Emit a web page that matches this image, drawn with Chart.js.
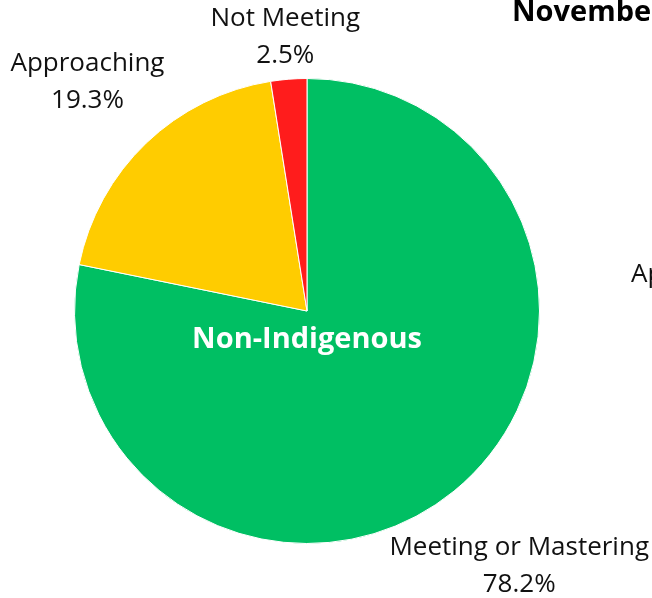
<!DOCTYPE html>
<html>
<head>
<meta charset="utf-8">
<script src="https://cdn.jsdelivr.net/npm/chart.js@4"></script>
<style>
html,body{margin:0;padding:0;background:#fff;}
#wrap{width:652px;height:598px;position:relative;}
</style>
</head>
<body>
<div id="wrap"><canvas id="c" width="652" height="598"></canvas></div>
<script>
const categories = ["Meeting or Mastering", "Approaching", "Not Meeting"];
const values = [78.2, 19.3, 2.5];
const valueLabels = ["78.2%", "19.3%", "2.5%"];
const colors = ["#00BF63", "#FFCC00", "#FF1C1C"];
const centerLabel = "Non-Indigenous";
const titleText = "November";
const neighborLabel = "Approaching";

const FONT = "'Open Sans', 'Noto Sans', sans-serif";

const labelPlugin = {
  id: 'outLabels',
  afterDatasetsDraw(chart) {
    const ctx = chart.ctx;
    const meta = chart.getDatasetMeta(0);
    const W = chart.width, H = chart.height;
    ctx.save();
    ctx.font = "26px " + FONT;
    ctx.fillStyle = "#111";
    ctx.textAlign = "center";
    ctx.textBaseline = "middle";
    const lh = 37;
    meta.data.forEach((arc, i) => {
      const {x, y, startAngle, endAngle, outerRadius} = arc.getProps(['x','y','startAngle','endAngle','outerRadius'], true);
      const mid = (startAngle + endAngle) / 2;
      const dx = Math.cos(mid), dy = Math.sin(mid);
      const lines = [categories[i], valueLabels[i]];
      const w = Math.max(...lines.map(l => ctx.measureText(l).width));
      const h = lines.length * lh;
      const pad = 6;
      let d = outerRadius;
      let cx, cy;
      for (; d < outerRadius + 400; d += 1) {
        cx = x + dx * d; cy = y + dy * d;
        const nx = Math.max(cx - w/2, Math.min(x, cx + w/2));
        const ny = Math.max(cy - h/2, Math.min(y, cy + h/2));
        if (Math.hypot(nx - x, ny - y) >= outerRadius + pad) break;
      }
      cx = Math.min(W - w/2 - 3, Math.max(w/2 + 3, cx));
      cy = Math.min(H - h/2 + 5, Math.max(h/2, cy));
      lines.forEach((l, k) => {
        ctx.fillText(l, cx, cy - h/2 + lh/2 + k*lh);
      });
    });
    // center label
    const a0 = meta.data[0];
    ctx.font = "bold 29px " + FONT;
    ctx.fillStyle = "#fff";
    ctx.fillText(centerLabel, a0.x, a0.y + 29);
    // cropped neighbour texts
    ctx.fillStyle = "#000";
    ctx.textAlign = "left";
    ctx.textBaseline = "alphabetic";
    ctx.font = "bold 29px " + FONT;
    ctx.fillText(titleText, 512, 21);
    ctx.fillStyle = "#111";
    ctx.font = "26px " + FONT;
    ctx.fillText(neighborLabel, 631, 282);
    ctx.restore();
  }
};

new Chart(document.getElementById('c'), {
  type: 'pie',
  data: {
    labels: categories,
    datasets: [{
      data: values,
      backgroundColor: colors,
      borderColor: '#ffffff',
      borderWidth: 1
    }]
  },
  options: {
    responsive: false,
    animation: false,
    layout: { padding: { left: 74, right: 112, top: 78, bottom: 54 } },
    plugins: {
      legend: { display: false },
      tooltip: { enabled: false },
      title: { display: false }
    }
  },
  plugins: [labelPlugin]
});
</script>
</body>
</html>
